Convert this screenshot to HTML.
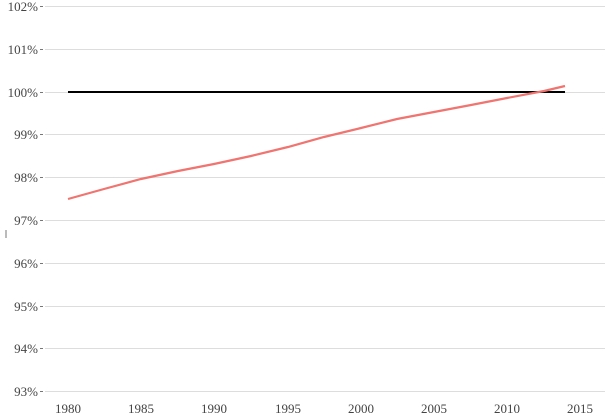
<!DOCTYPE html>
<html><head><style>body{margin:0;background:#fff}svg{display:block}text{font-family:"Liberation Serif",serif;font-size:13px;fill:#444}</style></head><body>
<svg width="607" height="420" viewBox="0 0 607 420">
<g stroke="#ddd" stroke-width="1">
<line x1="45" x2="605" y1="6.5" y2="6.5"/><line x1="45" x2="605" y1="49.5" y2="49.5"/><line x1="45" x2="605" y1="92.5" y2="92.5"/><line x1="45" x2="605" y1="134.5" y2="134.5"/><line x1="45" x2="605" y1="177.5" y2="177.5"/><line x1="45" x2="605" y1="220.5" y2="220.5"/><line x1="45" x2="605" y1="263.5" y2="263.5"/><line x1="45" x2="605" y1="306.5" y2="306.5"/><line x1="45" x2="605" y1="348.5" y2="348.5"/><line x1="45" x2="605" y1="391.5" y2="391.5"/>
</g>
<g stroke="#777" stroke-width="1">
<line x1="40" x2="43" y1="6.5" y2="6.5"/><line x1="40" x2="43" y1="49.5" y2="49.5"/><line x1="40" x2="43" y1="92.5" y2="92.5"/><line x1="40" x2="43" y1="134.5" y2="134.5"/><line x1="40" x2="43" y1="177.5" y2="177.5"/><line x1="40" x2="43" y1="220.5" y2="220.5"/><line x1="40" x2="43" y1="263.5" y2="263.5"/><line x1="40" x2="43" y1="306.5" y2="306.5"/><line x1="40" x2="43" y1="348.5" y2="348.5"/><line x1="40" x2="43" y1="391.5" y2="391.5"/>
<line x1="6" x2="6" y1="230" y2="238"/>
</g>
<g text-anchor="end">
<text x="38" y="11">102%</text><text x="38" y="54">101%</text><text x="38" y="97">100%</text><text x="38" y="139">99%</text><text x="38" y="182">98%</text><text x="38" y="225">97%</text><text x="38" y="268">96%</text><text x="38" y="311">95%</text><text x="38" y="353">94%</text><text x="38" y="396">93%</text>
</g>
<g text-anchor="middle">
<text x="68" y="413">1980</text><text x="141" y="413">1985</text><text x="214" y="413">1990</text><text x="288" y="413">1995</text><text x="361" y="413">2000</text><text x="434" y="413">2005</text><text x="507" y="413">2010</text><text x="580" y="413">2015</text>
</g>
<line x1="68" x2="565" y1="92" y2="92" stroke="#000" stroke-width="2"/>
<polyline fill="none" stroke="#f07470" stroke-width="2.2" points="68,199 104,189 141,179 178,171 214,164 251,156 288,147 324,137 361,128 397,119 434,112 471,105 507,98 544,91 565,86"/>
</svg>
</body></html>
